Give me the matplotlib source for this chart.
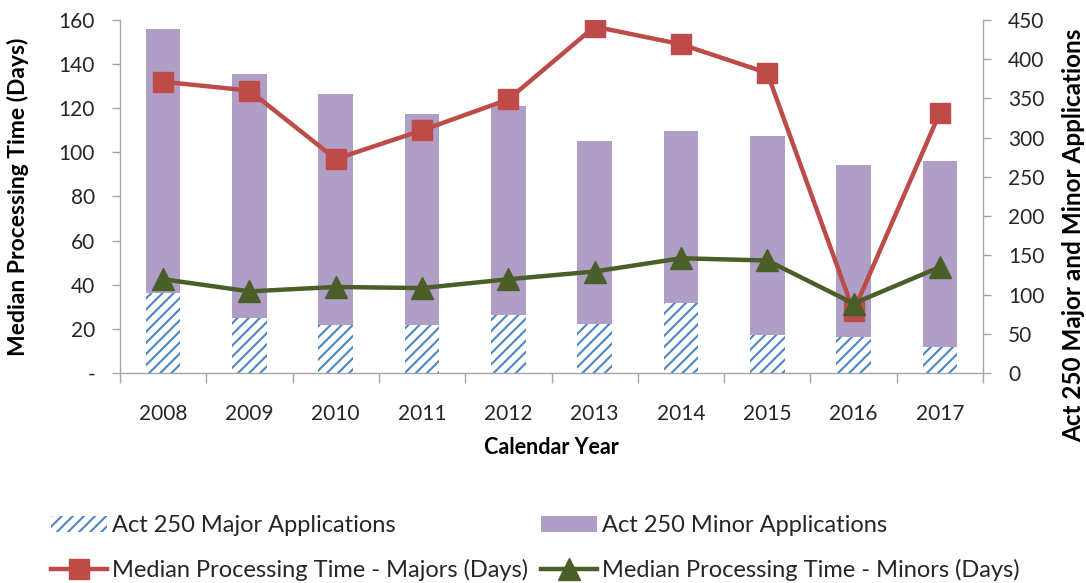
import matplotlib
matplotlib.use("Agg")
import matplotlib.pyplot as plt
import numpy as np

years = ["2008", "2009", "2010", "2011", "2012", "2013", "2014", "2015", "2016", "2017"]
major_apps = [102, 70, 61, 61, 74, 62, 89, 49, 46, 33]
minor_apps = [439, 381, 356, 330, 340, 296, 309, 302, 265, 270]
median_majors = [132, 128, 97, 110, 124, 157, 149, 136, 28, 118]
median_minors = [42.5, 37, 39, 38.5, 42.5, 46, 52, 51, 31.5, 48]

left_ticks = [0, 20, 40, 60, 80, 100, 120, 140, 160]
left_ticklabels = ["-", "20", "40", "60", "80", "100", "120", "140", "160"]
right_ticks = [0, 50, 100, 150, 200, 250, 300, 350, 400, 450]

plt.rcParams['font.family'] = ['Lato', 'DejaVu Sans']
plt.rcParams['hatch.linewidth'] = 1.5

PURPLE = "#AF9FC7"
BLUE = "#4A86C8"
RED = "#BE4B48"
GREEN = "#4A5E28"
GRAY = "#A6A6A6"
TXT = "#262626"

fig = plt.figure(figsize=(10.86, 5.83), dpi=100)
ax = fig.add_axes([120/1086, 1-373/583, (983-120)/1086, (373-20)/583])
ax2 = ax.twinx()
ax.set_zorder(2)
ax.patch.set_visible(False)
ax2.set_zorder(1)

x = np.arange(len(years))
w = 0.4
b_minor = ax2.bar(x, minor_apps, width=w, color=PURPLE, linewidth=0, label="Act 250 Minor Applications")
b_major = ax2.bar(x, major_apps, width=w, facecolor="white", edgecolor=BLUE, hatch="///",
                  linewidth=0, label="Act 250 Major Applications")

l_maj, = ax.plot(x, median_majors, color=RED, lw=3.2, marker="s", markersize=15,
                 markeredgecolor=RED, label="Median Processing Time - Majors (Days)")
l_min, = ax.plot(x, median_minors, color=GREEN, lw=3.2, marker="^", markersize=16,
                 markeredgecolor=GREEN, label="Median Processing Time - Minors (Days)")

ax.set_xlim(-0.5, len(years) - 0.5)
ax.set_ylim(0, 160)
ax2.set_ylim(0, 450)

ax.set_yticks(left_ticks)
ax.set_yticklabels(left_ticklabels)
ax2.set_yticks(right_ticks)

# x ticks at category boundaries, labels centered
ax.set_xticks(np.arange(-0.5, len(years), 1.0))
ax.set_xticklabels([])
ax.set_xticks(x, minor=True)
ax.set_xticklabels(years, minor=True)
ax.tick_params(axis="x", which="major", direction="out", length=7, color=GRAY, width=1)
ax.tick_params(axis="x", which="minor", length=0, pad=22, labelsize=15, labelcolor=TXT)

ax.tick_params(axis="y", direction="out", length=6, color=GRAY, width=1, pad=12,
               labelsize=15, labelcolor=TXT)
ax2.tick_params(axis="y", direction="out", length=6, color=GRAY, width=1, pad=12,
                labelsize=15, labelcolor=TXT)

for a in (ax, ax2):
    a.spines["top"].set_visible(False)
    for s in ("left", "right", "bottom"):
        a.spines[s].set_color(GRAY)
        a.spines[s].set_linewidth(1)
ax.spines["right"].set_visible(False)
ax2.spines["left"].set_visible(False)
ax2.spines["bottom"].set_visible(False)

ax.set_xlabel("Calendar Year", fontsize=15.5, fontweight="bold", color="black", labelpad=10)
ax.set_ylabel("Median Processing Time (Days)", fontsize=16.5, fontweight="bold", color="black")
ax.yaxis.set_label_coords((29 - 120) / 863, (373 - 197) / 353)
ax2.set_ylabel("Act 250 Major and Minor Applications", fontsize=17.5, fontweight="bold",
               color="black")
ax2.yaxis.set_label_coords((1062 - 120) / 863, (373 - 235) / 353)

handles = [b_major, l_maj, b_minor, l_min]
labels = [h.get_label() for h in handles]
leg = fig.legend(handles, labels, ncol=2, loc="upper left", bbox_to_anchor=(30/1086, 1-494/583),
                 frameon=False, fontsize=17.0, handlelength=2.35, handletextpad=0.22,
                 columnspacing=0.55, labelspacing=0.95, labelcolor=TXT)

fig.savefig("out.png", dpi=100)
